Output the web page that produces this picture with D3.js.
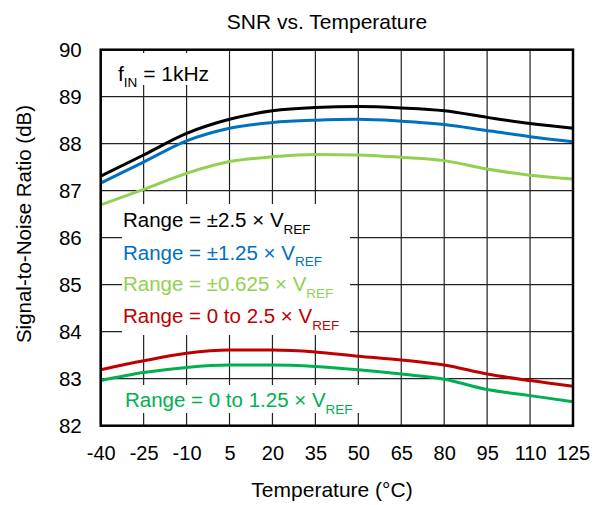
<!DOCTYPE html>
<html>
<head>
<meta charset="utf-8">
<script src="https://cdn.jsdelivr.net/npm/d3@7"></script>
<style>
  body { margin: 0; background: #fff; }
  text { font-family: "Liberation Sans", Arial, sans-serif; }
</style>
</head>
<body>
<div class="chart"></div>
<script>
// temperatures (°C)
const temps = [-40, -25, -10, 5, 20, 35, 50, 65, 80, 95, 110, 125];

// SNR values (dB)
const snrPm25 = [87.31, 87.76, 88.22, 88.52, 88.70, 88.77, 88.79, 88.76, 88.70, 88.56, 88.43, 88.33];
const snrPm125 = [87.16, 87.61, 88.06, 88.33, 88.45, 88.50, 88.52, 88.48, 88.41, 88.28, 88.15, 88.04];
const snrPm0625 = [86.70, 87.03, 87.37, 87.62, 87.72, 87.77, 87.76, 87.71, 87.64, 87.46, 87.33, 87.25];
const snrU25 = [83.19, 83.38, 83.54, 83.61, 83.61, 83.57, 83.48, 83.40, 83.29, 83.10, 82.96, 82.84];
const snrU125 = [82.96, 83.13, 83.24, 83.29, 83.29, 83.26, 83.19, 83.10, 82.99, 82.77, 82.64, 82.51];

const xTicks = [-40, -25, -10, 5, 20, 35, 50, 65, 80, 95, 110, 125];
const yTicks = [82, 83, 84, 85, 86, 87, 88, 89, 90];

const seriesNames = ["±2.5", "±1.25", "±0.625", "0 to 2.5", "0 to 1.25"];
const seriesColors = ["#000000", "#0070C0", "#92D050", "#C00000", "#00B050"];
const seriesValues = [snrPm25, snrPm125, snrPm0625, snrU25, snrU125];

const W = 601, H = 505;
const plot = { left: 100.7, right: 573, top: 49.7, bottom: 425.7 };

let svg = d3.select(".chart").append("svg")
    .attr("width", W)
    .attr("height", H);

let xScale = d3.scaleLinear().domain([-40, 125]).range([plot.left, plot.right]);
let yScale = d3.scaleLinear().domain([82, 90]).range([plot.bottom, plot.top]);

// grid
svg.append("g").attr("class", "grid-x")
    .selectAll("line").data(xTicks).join("line")
    .attr("x1", d => xScale(d)).attr("x2", d => xScale(d))
    .attr("y1", plot.top).attr("y2", plot.bottom)
    .attr("stroke", "#222").attr("stroke-width", 1.2);

svg.append("g").attr("class", "grid-y")
    .selectAll("line").data(yTicks).join("line")
    .attr("x1", plot.left).attr("x2", plot.right)
    .attr("y1", d => yScale(d)).attr("y2", d => yScale(d))
    .attr("stroke", "#222").attr("stroke-width", 1.2);

// white boxes behind the annotations
svg.append("rect").attr("x", 104).attr("y", 53).attr("width", 114).attr("height", 32).attr("fill", "#fff");
svg.append("rect").attr("x", 122).attr("y", 204).attr("width", 228).attr("height", 131).attr("fill", "#fff");
svg.append("rect").attr("x", 122).attr("y", 385).attr("width", 242).attr("height", 28).attr("fill", "#fff");

// axes (labels only, ticks come from the grid)
let xAxis = d3.axisBottom(xScale).tickValues(xTicks).tickSize(0).tickPadding(20)
    .tickFormat(d => String(d));
let yAxis = d3.axisLeft(yScale).tickValues(yTicks).tickSize(0).tickPadding(19);

svg.append("g").attr("class", "axis x-axis")
    .attr("transform", `translate(0, ${plot.bottom})`)
    .call(xAxis)
    .call(g => g.select(".domain").remove())
    .selectAll("text").attr("font-size", 20).attr("fill", "#000")
    .attr("font-family", "Liberation Sans, Arial, sans-serif");

svg.append("g").attr("class", "axis y-axis")
    .attr("transform", `translate(${plot.left}, 0)`)
    .call(yAxis)
    .call(g => g.select(".domain").remove())
    .selectAll("text").attr("font-size", 20.5).attr("fill", "#000")
    .attr("font-family", "Liberation Sans, Arial, sans-serif");

// curves
let line = d3.line()
    .x((d, i) => xScale(temps[i]))
    .y(d => yScale(d))
    .curve(d3.curveMonotoneX);

svg.append("g").attr("class", "curves")
    .selectAll("path").data(seriesValues).join("path")
    .attr("d", d => line(d))
    .attr("fill", "none")
    .attr("stroke", (d, i) => seriesColors[i])
    .attr("stroke-width", 3);

// frame
svg.append("rect")
    .attr("x", plot.left).attr("y", plot.top)
    .attr("width", plot.right - plot.left).attr("height", plot.bottom - plot.top)
    .attr("fill", "none").attr("stroke", "#000").attr("stroke-width", 2.5);

// titles
svg.append("text")
    .attr("x", 327).attr("y", 28.5)
    .attr("text-anchor", "middle").attr("font-size", 21)
    .text("SNR vs. Temperature");

svg.append("text")
    .attr("x", 332).attr("y", 497)
    .attr("text-anchor", "middle").attr("font-size", 21)
    .text("Temperature (°C)");

svg.append("text")
    .attr("transform", "translate(31, 224) rotate(-90)")
    .attr("text-anchor", "middle").attr("font-size", 20.5)
    .text("Signal-to-Noise Ratio (dB)");

// f_IN annotation
let fin = svg.append("text").attr("x", 118).attr("y", 81).attr("font-size", 21);
fin.append("tspan").text("f");
fin.append("tspan").attr("dy", 6).attr("font-size", 13.5).text("IN");
fin.append("tspan").attr("dy", -6).text(" = 1kHz");

// legend labels
const legendY = [227, 259.5, 291, 323, 407];
const legendX = [123, 123, 123, 123, 125];
seriesNames.forEach((name, i) => {
    let t = svg.append("text")
        .attr("x", legendX[i]).attr("y", legendY[i])
        .attr("font-size", 20.5).attr("fill", seriesColors[i]);
    t.append("tspan").text(`Range = ${name} × V`);
    t.append("tspan").attr("dy", 6.5).attr("font-size", 13.5).text("REF");
});
</script>
</body>
</html>
